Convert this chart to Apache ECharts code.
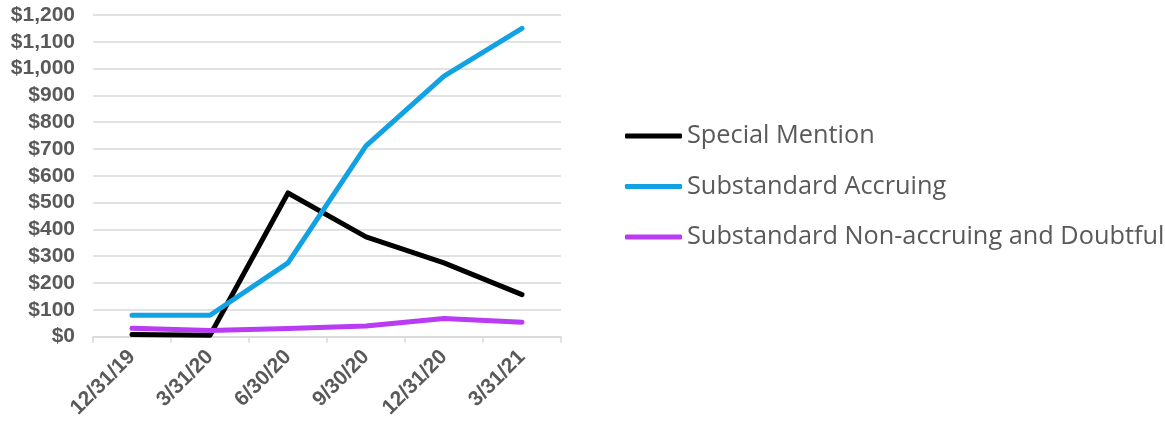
<!DOCTYPE html>
<html>
<head>
<meta charset="utf-8">
<script src="https://cdn.jsdelivr.net/npm/echarts@6/dist/echarts.min.js"></script>
<style>
  html, body { margin: 0; padding: 0; background: #fff; }
  #chart { width: 1165px; height: 421px; }
</style>
</head>
<body>
<div id="chart"></div>
<script>
// Quarter-end dates
const categories = ['12/31/19', '3/31/20', '6/30/20', '9/30/20', '12/31/20', '3/31/21'];

// Balances by risk rating ($ millions)
const specialMention = [8, 5, 536, 372, 275, 157];
const substandardAccruing = [80, 80, 275, 712, 972, 1150];
const substandardNonAccrual = [31, 23, 30, 40, 68, 54];

const seriesNames = ['Special Mention', 'Substandard Accruing', 'Substandard Non-accruing and Doubtful'];
const seriesColors = ['#000000', '#12A1E2', '#B93CF4'];
const seriesData = [specialMention, substandardAccruing, substandardNonAccrual];

const chart = echarts.init(document.getElementById('chart'), null, { renderer: 'canvas' });

chart.setOption({
  animation: false,
  backgroundColor: '#ffffff',
  grid: { left: 93, right: 604, top: 15, bottom: 84, containLabel: false },
  legend: {
    orient: 'vertical',
    left: 620,
    top: 117,
    itemWidth: 57,
    itemHeight: 5,
    itemGap: 22.5,
    icon: 'roundRect',
    data: seriesNames,
    textStyle: {
      fontFamily: '"Open Sans", "Noto Sans", sans-serif',
      fontSize: 25.3,
      color: '#595959',
      lineHeight: 28
    }
  },
  xAxis: {
    type: 'category',
    data: categories,
    boundaryGap: true,
    axisLine: { show: true, lineStyle: { color: '#d9d9d9', width: 1.5 } },
    axisTick: { show: true, length: 6, lineStyle: { color: '#d9d9d9', width: 1.5 } },
    axisLabel: {
      rotate: 45,
      margin: 17,
      fontFamily: 'Liberation Sans, Arial, sans-serif',
      fontWeight: 'bold',
      fontSize: 21,
      color: '#595959'
    },
    splitLine: { show: false }
  },
  yAxis: {
    type: 'value',
    min: 0,
    max: 1200,
    interval: 100,
    axisLine: { show: false },
    axisTick: { show: false },
    axisLabel: {
      margin: 18,
      fontFamily: 'Liberation Sans, Arial, sans-serif',
      fontWeight: 'bold',
      fontSize: 21,
      color: '#595959',
      formatter: v => '$' + v.toLocaleString('en-US')
    },
    splitLine: { show: true, lineStyle: { color: '#d9d9d9', width: 1.5 } }
  },
  series: seriesNames.map((name, i) => ({
    name,
    type: 'line',
    data: seriesData[i],
    symbol: 'none',
    color: seriesColors[i],
    lineStyle: { color: seriesColors[i], width: 5, cap: 'round', join: 'round' },
    emphasis: { disabled: true }
  }))
});
</script>
</body>
</html>
